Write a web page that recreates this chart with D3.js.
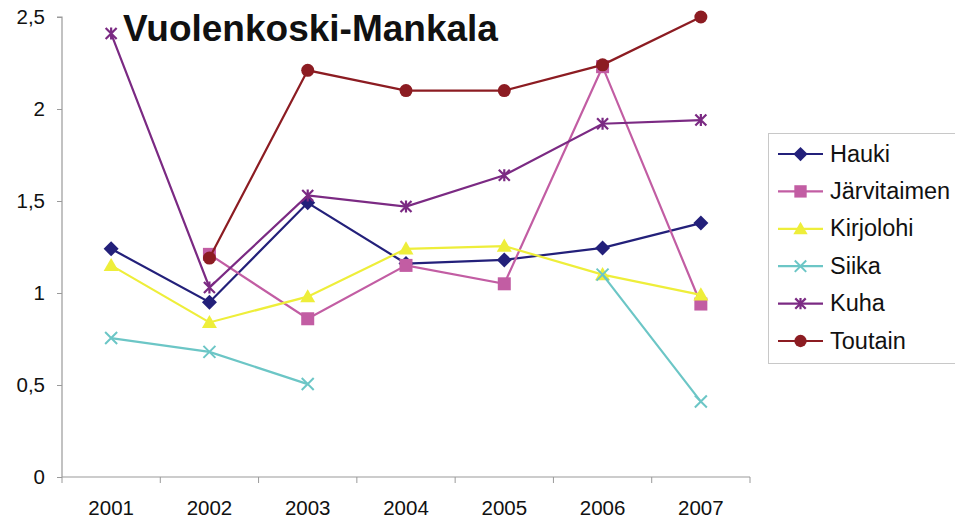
<!DOCTYPE html>
<html>
<head>
<meta charset="utf-8">
<script src="https://cdn.jsdelivr.net/npm/d3@7"></script>
<style>
  html, body { margin: 0; padding: 0; background: #fff; }
  svg { display: block; font-family: "Liberation Sans", Arial, sans-serif; }
</style>
</head>
<body>
<svg id="chart" width="955" height="524"></svg>
<script>
// Years on the category axis
const years = ["2001", "2002", "2003", "2004", "2005", "2006", "2007"];

// Catch index per species (null = no value that year)
const hauki       = [1.24, 0.95, 1.49, 1.16, 1.18, 1.245, 1.38];
const jarvitaimen = [null, 1.21, 0.86, 1.15, 1.05, 2.23, 0.94];
const kirjolohi   = [1.15, 0.84, 0.98, 1.24, 1.255, 1.10, 0.99];
const siika       = [0.755, 0.68, 0.505, null, null, 1.10, 0.41];
const kuha        = [2.41, 1.03, 1.53, 1.47, 1.64, 1.92, 1.94];
const toutain     = [null, 1.19, 2.21, 2.10, 2.10, 2.24, 2.50];

const yTicks = [0, 0.5, 1, 1.5, 2, 2.5];
const yTickLabels = ["0", "0,5", "1", "1,5", "2", "2,5"];

const seriesNames = ["Hauki", "Järvitaimen", "Kirjolohi", "Siika", "Kuha", "Toutain"];
const seriesValues = [hauki, jarvitaimen, kirjolohi, siika, kuha, toutain];
const seriesColors = ["#23207a", "#c25da3", "#eeee3a", "#6cc6c6", "#7b2a83", "#8c1c22"];
const seriesMarkers = ["diamond", "square", "triangle", "x", "star", "circle"];

const title = "Vuolenkoski-Mankala";

const svg = d3.select("#chart");
const plot = { left: 62, right: 750, top: 17, bottom: 477 };

const x = d3.scaleBand().domain(years).range([plot.left, plot.right]);
const y = d3.scaleLinear().domain([0, 2.5]).range([plot.bottom, plot.top]);
const cx = d => x(d) + x.bandwidth() / 2;

// Axes
const axisColor = "#9a9a9a";
const yAxis = svg.append("g").attr("transform", `translate(${plot.left},0)`)
  .call(d3.axisLeft(y).tickValues(yTicks).tickFormat((d, i) => yTickLabels[i]).tickSize(5).tickPadding(12));
const xAxis = svg.append("g").attr("transform", `translate(0,${plot.bottom})`)
  .call(d3.axisBottom(x).tickSize(0).tickPadding(23));
// category boundary ticks on the x axis
const boundaries = years.map(d => x(d)).concat([plot.right]);
xAxis.selectAll(".bound").data(boundaries).enter().append("line")
  .attr("x1", d => d).attr("x2", d => d).attr("y1", 0).attr("y2", 6)
  .attr("stroke", axisColor);
[yAxis, xAxis].forEach(a => {
  a.select(".domain").attr("stroke", axisColor).attr("stroke-width", 1.2);
  a.selectAll(".tick line").attr("stroke", axisColor);
  a.selectAll("text").attr("font-size", 20.5).attr("fill", "#111")
    .attr("font-family", "'Liberation Sans', Arial, sans-serif");
});
xAxis.select(".domain").attr("d", `M${plot.left},0H${plot.right}`);
yAxis.select(".domain").attr("d", `M-5,${plot.top}H0V${plot.bottom}`);

// Marker shapes
function drawMarker(g, type, color, px, py, s) {
  const k = s || 1;
  if (type === "diamond") {
    const r = 7.5 * k;
    g.append("path").attr("d", `M${px},${py - r}L${px + r},${py}L${px},${py + r}L${px - r},${py}Z`)
      .attr("fill", color);
  } else if (type === "square") {
    g.append("rect").attr("x", px - 6.5 * k).attr("y", py - 6.5 * k)
      .attr("width", 13 * k).attr("height", 13 * k).attr("fill", color);
  } else if (type === "triangle") {
    const r = 7.5 * k;
    g.append("path").attr("d", `M${px},${py - r}L${px + r},${py + r * 0.75}L${px - r},${py + r * 0.75}Z`)
      .attr("fill", color);
  } else if (type === "x") {
    const r = 6 * k;
    g.append("path").attr("d", `M${px - r},${py - r}L${px + r},${py + r}M${px - r},${py + r}L${px + r},${py - r}`)
      .attr("stroke", color).attr("stroke-width", 2);
  } else if (type === "star") {
    const r = 5.5 * k;
    g.append("path").attr("d",
      `M${px - r},${py - r}L${px + r},${py + r}M${px - r},${py + r}L${px + r},${py - r}M${px},${py - r - 0.5}V${py + r + 0.5}`)
      .attr("stroke", color).attr("stroke-width", 2.2);
  } else if (type === "circle") {
    g.append("circle").attr("cx", px).attr("cy", py).attr("r", 6.5 * k).attr("fill", color);
  }
}

// Series lines and markers
const line = d3.line().defined(d => d.v !== null).x(d => cx(d.year)).y(d => y(d.v));
seriesNames.forEach((name, i) => {
  const pts = years.map((yr, j) => ({ year: yr, v: seriesValues[i][j] }));
  const g = svg.append("g");
  g.append("path").datum(pts).attr("d", line)
    .attr("fill", "none").attr("stroke", seriesColors[i]).attr("stroke-width", 2.2);
  pts.filter(d => d.v !== null).forEach(d => drawMarker(g, seriesMarkers[i], seriesColors[i], cx(d.year), y(d.v)));
});

// Title
svg.append("text").attr("x", 123).attr("y", 41).text(title)
  .attr("font-size", 37).attr("font-weight", "bold").attr("fill", "#111");

// Legend
const lg = svg.append("g").attr("transform", "translate(768,133)");
lg.append("rect").attr("x", 0.5).attr("y", 0.5).attr("width", 195).attr("height", 230)
  .attr("fill", "#fff").attr("stroke", "#c8c8c8").attr("stroke-width", 1);
seriesNames.forEach((name, i) => {
  const ly = 21 + i * 37.4;
  lg.append("line").attr("x1", 10).attr("x2", 55).attr("y1", ly).attr("y2", ly)
    .attr("stroke", seriesColors[i]).attr("stroke-width", 2.2);
  drawMarker(lg, seriesMarkers[i], seriesColors[i], 32.5, ly, 0.95);
  lg.append("text").attr("x", 62).attr("y", ly + 7.5).text(name)
    .attr("font-size", 23.5).attr("fill", "#111");
});
</script>
</body>
</html>
